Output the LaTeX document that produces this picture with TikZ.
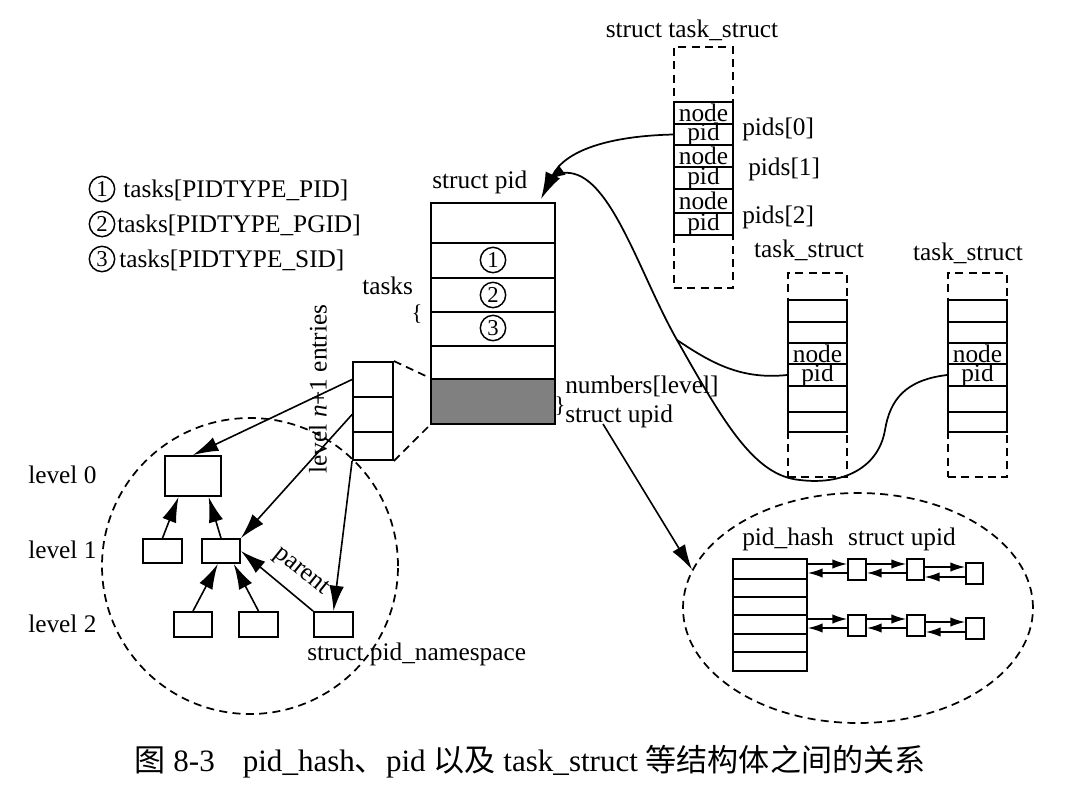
\documentclass[tikz,border=0pt]{standalone}
\usepackage{fontspec}
\setmainfont{Liberation Serif}
\newfontfamily\cjk{Noto Sans CJK SC}
\usetikzlibrary{arrows.meta,shapes.geometric,fit,calc}
\definecolor{pidgrey}{RGB}{128,128,128}
\begin{document}
\begin{tikzpicture}[x=0.75pt,y=-0.75pt,
  lbl/.style={font=\fontsize{19}{22}\selectfont, inner sep=0},
  box/.style={draw, line width=1.4pt, inner sep=0},
  tbox/.style={draw, line width=1.6pt, inner sep=0},
  dsh/.style={draw, dash pattern=on 6pt off 4pt, line width=1.3pt},
  tarr/.style={-{Latex[length=19pt,width=11pt]}, line width=1.2pt},
  sarr/.style={-{Latex[length=11pt,width=7pt]}, line width=1pt},
  curve/.style={line width=1.3pt},
  num/.style={circle, draw, line width=1.1pt, inner sep=0, minimum size=19pt, font=\fontsize{17}{17}\selectfont},
  brace/.style={inner sep=0, font=\fontsize{17}{17}\selectfont}]
\useasboundingbox (0,0) rectangle (1075,790);

% legend
\node[num] (c1) at (102,189) {1};
\node[lbl, anchor=base west] (lg1) at (123,197) {tasks[PIDTYPE\_PID]};
\node[num] (c2) at (102,224) {2};
\node[lbl, anchor=base west] (lg2) at (117,232) {tasks[PIDTYPE\_PGID]};
\node[num] (c3) at (102,259) {3};
\node[lbl, anchor=base west] (lg3) at (119,267) {tasks[PIDTYPE\_SID]};

% struct pid
\node[lbl, anchor=base west] (spidl) at (432,188) {struct pid};
\node[tbox, fit={(431,203) (555,243)}] (p0) {};
\node[tbox, fit={(431,243) (555,278)}] (p1) {};
\node[tbox, fit={(431,278) (555,312)}] (p2) {};
\node[tbox, fit={(431,312) (555,346)}] (p3) {};
\node[tbox, fit={(431,346) (555,379)}] (p4) {};
\node[tbox, fit={(431,379) (555,424)}, fill=pidgrey] (pg) {};
\node[num] (n1) at (493,260) {1};
\node[num] (n2) at (493,295) {2};
\node[num] (n3) at (493,328) {3};
\node[lbl, anchor=base west] (tasksl) at (362,294) {tasks};
\node[brace] (brl) at (417,314) {\{};
\node[lbl, anchor=base west] (numl) at (565,393) {numbers[level]};
\node[brace] (brr) at (560,406) {\}};
\node[lbl, anchor=base west] (upidl) at (565,422) {struct upid};

% level n+1 entries
\node[box, fit={(353,362) (393,397)}] (e1) {};
\node[box, fit={(353,397) (393,432)}] (e2) {};
\node[box, fit={(353,432) (393,460)}] (e3) {};
\node[lbl, rotate=90] (entl) at (318,389) {level \textit{n}+1 entries};
\draw[dsh] (e1.north east) -- (pg.north west);
\draw[dsh] (e3.south east) -- (pg.south west);

% namespace circle
\node[circle, dsh, minimum size=222pt, inner sep=0] (nsc) at (250,566) {};

% levels
\node[lbl, anchor=base west] (lv0) at (28,483) {level 0};
\node[lbl, anchor=base west] (lv1) at (28,558) {level 1};
\node[lbl, anchor=base west] (lv2) at (28,632) {level 2};
\node[box, fit={(165,456) (221,496)}] (l0) {};
\node[box, fit={(143,539) (182,563)}] (l1a) {};
\node[box, fit={(202,539) (240,563)}] (l1b) {};
\node[box, fit={(174,612) (212,637)}] (l2a) {};
\node[box, fit={(239,612) (278,637)}] (l2b) {};
\node[box, fit={(314,612) (353,637)}] (l2c) {};

\draw[tarr] (l1a.north) -- ($(l0.south west)!0.25!(l0.south east)$);
\draw[tarr] (l1b.north) -- ($(l0.south west)!0.77!(l0.south east)$);
\draw[tarr] (l2a.north) -- ($(l1b.south west)!0.42!(l1b.south east)$);
\draw[tarr] (l2b.north) -- ($(l1b.south west)!0.82!(l1b.south east)$);
\draw[tarr] (l2c.north west) -- (l1b.east);
\draw[tarr] (e1.west) -- (l0.north);
\draw[tarr] (e2.west) -- (l1b.north east);
\draw[tarr] (e3.south west) -- (l2c.north);
\node[lbl, rotate=-39] (parl) at (301,572) {parent};
\node[lbl, anchor=base west] (nsl) at (307,660) {struct pid\_namespace};

% struct task_struct
\node[lbl, anchor=base] (tsl0) at (692,37) {struct task\_struct};
\node[dsh, fit={(674,47) (733,288)}, inner sep=0] (tA) {};
\foreach \i/\a/\b/\t in {1/102/124/node, 2/124/145/pid, 3/145/167/node, 4/167/189/pid, 5/189/213/node, 6/213/235/pid} {
  \node[box, fit={(674,\a) (733,\b)}] (tA\i) {};
  \node[lbl] (tA\i t) at (tA\i) {\t};
}
\node[lbl, anchor=base west] (pids0) at (742,135) {pids[0]};
\node[lbl, anchor=base west] (pids1) at (748,175) {pids[1]};
\node[lbl, anchor=base west] (pids2) at (742,223) {pids[2]};

% task_struct 2 and 3
\node[lbl, anchor=base] (tsl1) at (809,257) {task\_struct};
\node[lbl, anchor=base] (tsl2) at (968,260) {task\_struct};
\node[dsh, fit={(788,273) (847,477)}, inner sep=0] (tB) {};
\node[dsh, fit={(948,273) (1007,477)}, inner sep=0] (tC) {};
\foreach \i/\a/\b/\t in {1/300/322/, 2/322/343/, 3/343/364/node, 4/364/386/pid, 5/386/412/, 6/412/432/} {
  \node[box, fit={(788,\a) (847,\b)}] (tB\i) {};
  \node[lbl] (tB\i t) at (tB\i) {\t};
  \node[box, fit={(948,\a) (1007,\b)}] (tC\i) {};
  \node[lbl] (tC\i t) at (tC\i) {\t};
}

% curves
\coordinate (pidin) at (548,180);
\coordinate (jn) at (677,340);
\draw[curve, -{Latex[length=20pt,width=12pt]}] (tA2.west) .. controls (610,136) and (565,150) .. ($(p0.north east)+(-15,-3)$);
\draw[curve, -{Latex[length=13pt,width=9pt]}] (tC4.west) .. controls (905,380) and (890,400) .. (885,430) .. controls (878,470) and (840,485) .. (800,480) .. controls (755,476) and (725,425) .. (jn) .. controls (640,275) and (612,178) .. (570,173) .. controls (562,172) and (555,175) .. (pidin);
\draw[curve] (tB4.west) .. controls (740,380) and (710,362) .. (jn);

% pid_hash ellipse
\node[ellipse, dsh, minimum width=262.5pt, minimum height=172.5pt, inner sep=0] (hashell) at (858,608) {};
\coordinate (upstart) at (603,424);
\draw[tarr] (upstart) -- (hashell.167);
\node[lbl, anchor=base] (hashl) at (788,545) {pid\_hash};
\node[lbl, anchor=base] (upl) at (902,545) {struct upid};
\foreach \i/\a/\b in {1/559/579,2/579/597,3/597/615,4/615/634,5/634/652,6/652/671}
  \node[box, fit={(733,\a) (807,\b)}] (h\i) {};
\node[box, fit={(848,559) (866,580)}] (u11) {};
\node[box, fit={(907,559) (924,580)}] (u12) {};
\node[box, fit={(966,563) (983,584)}] (u13) {};
\node[box, fit={(848,615) (866,636)}] (u21) {};
\node[box, fit={(907,615) (925,636)}] (u22) {};
\node[box, fit={(966,618) (984,639)}] (u23) {};

\draw[sarr] (h1.east |- 0,564) -- (u11.west |- 0,564);
\draw[sarr] (u11.west |- 0,573) -- (h1.east |- 0,573);
\draw[sarr] (u11.east |- 0,564) -- (u12.west |- 0,564);
\draw[sarr] (u12.west |- 0,573) -- (u11.east |- 0,573);
\draw[sarr] (u12.east |- 0,567) -- (u13.west |- 0,567);
\draw[sarr] (u13.west |- 0,577) -- (u12.east |- 0,577);
\draw[sarr] (h4.east |- 0,619) -- (u21.west |- 0,619);
\draw[sarr] (u21.west |- 0,628) -- (h4.east |- 0,628);
\draw[sarr] (u21.east |- 0,619) -- (u22.west |- 0,619);
\draw[sarr] (u22.west |- 0,628) -- (u21.east |- 0,628);
\draw[sarr] (u22.east |- 0,622) -- (u23.west |- 0,622);
\draw[sarr] (u23.west |- 0,632) -- (u22.east |- 0,632);

% caption
\node[font=\fontsize{23.3}{26}\selectfont, inner sep=0] (cap) at (530,762) {{\cjk 图} 8-3\hspace{0.9em}pid\_hash{\cjk 、}pid {\cjk 以及} task\_struct {\cjk 等结构体之间的关系}};
\end{tikzpicture}
\end{document}
